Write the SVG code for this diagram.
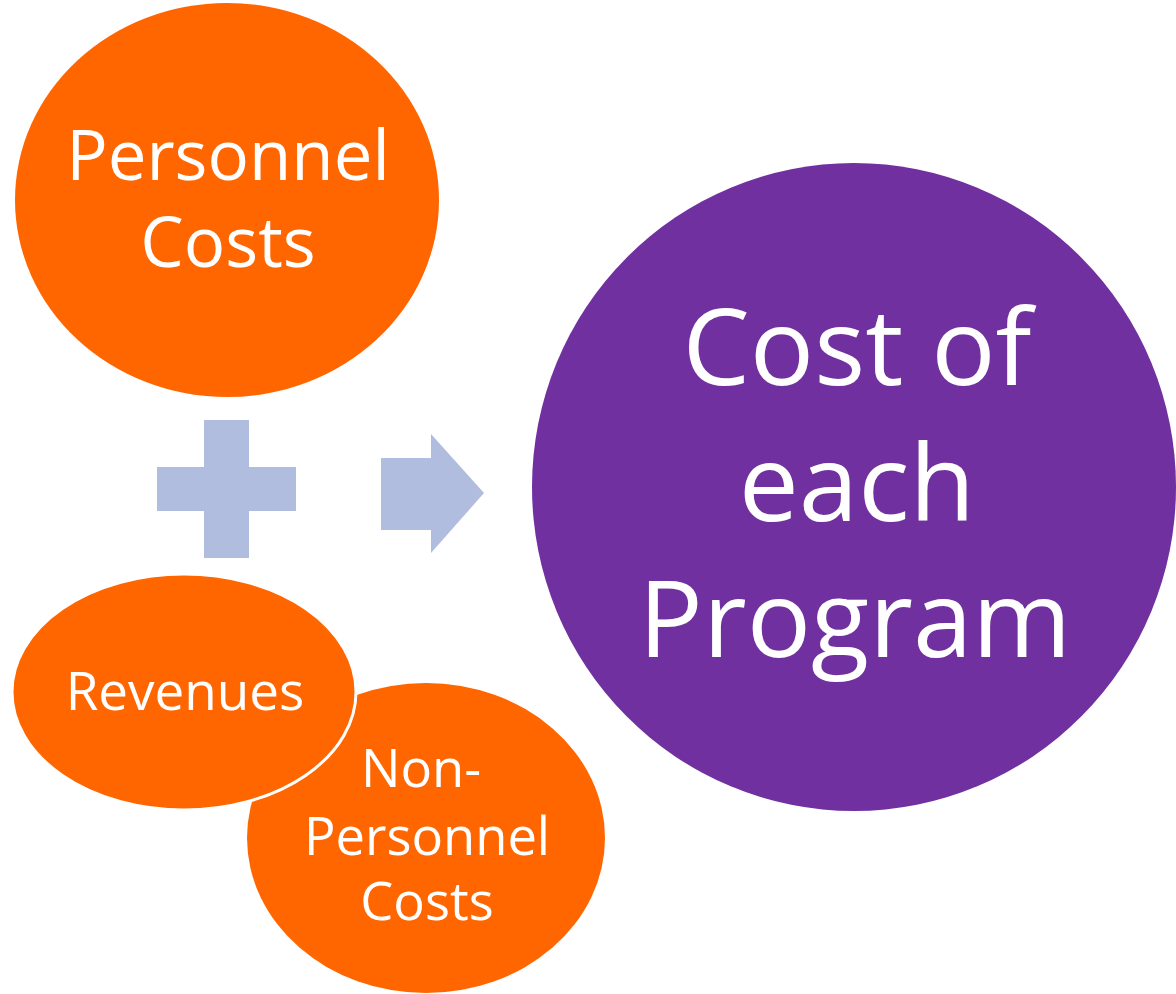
<svg xmlns="http://www.w3.org/2000/svg" width="1176" height="994" viewBox="0 0 1176 994">
<style>
.org{fill:#FF6600}
.pur{fill:#7030A0}
.sym{fill:#B0BDDE}
text{fill:#FFFFFF;font-family:"Open Sans","Liberation Sans",sans-serif;text-anchor:middle}
</style>
<rect width="1176" height="994" fill="#FFFFFF"/>
<g id="personnel">
<ellipse class="org" cx="227" cy="200" rx="212" ry="197"/>
<text x="228" y="180" font-size="69">Personnel</text>
<text x="228" y="267" font-size="69">Costs</text>
</g>
<g id="program">
<ellipse class="pur" cx="854" cy="487" rx="322" ry="324"/>
<text x="857" y="385" font-size="107">Cost of</text>
<text x="857" y="521" font-size="107">each</text>
<text x="855" y="657" font-size="107">Program</text>
</g>
<g id="nonpersonnel">
<ellipse class="org" cx="426" cy="838" rx="179" ry="155"/>
<text x="421" y="787" font-size="52.5">Non-</text>
<text x="427" y="855" font-size="52.5">Personnel</text>
<text x="427" y="920" font-size="52.5">Costs</text>
</g>
<g id="revenues">
<ellipse class="org" cx="184" cy="692" rx="172" ry="118" stroke="#FFFFFF" stroke-width="3"/>
<text x="185" y="710" font-size="53">Revenues</text>
</g>
<g id="connectors">
<path class="sym" d="M204,420H249V467H296V511H249V558H204V511H157V467H204Z"/>
<path class="sym" d="M381,458H431V434L484,493L431,553V530H381Z"/>
</g>
</svg>
